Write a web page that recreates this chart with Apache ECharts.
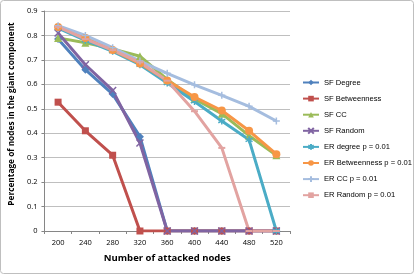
<!DOCTYPE html>
<html><head><meta charset="utf-8">
<script src="https://cdn.jsdelivr.net/npm/echarts@6/dist/echarts.min.js"></script>
<style>html,body{margin:0;padding:0;background:#fff}#c{width:415px;height:275px}</style>
</head><body><div id="c"></div>
<script>
const categories = ['200','240','280','320','360','400','440','480','520'];
const sfDegree      = [0.785, 0.66, 0.56, 0.386, 0, 0, 0, 0, 0];
const sfBetweenness = [0.527, 0.41, 0.31, 0, 0, 0, 0, 0, 0];
const sfCC          = [0.79, 0.77, 0.745, 0.715, 0.62, 0.54, 0.48, 0.39, 0.31];
const sfRandom      = [0.81, 0.68, 0.575, 0.36, 0, 0, 0, 0, 0];
const erDegree      = [0.83, 0.78, 0.735, 0.68, 0.605, 0.53, 0.45, 0.373, 0];
const erBetweenness = [0.835, 0.79, 0.74, 0.685, 0.616, 0.548, 0.493, 0.41, 0.314];
const erCC          = [0.84, 0.80, 0.75, 0.695, 0.645, 0.598, 0.555, 0.51, 0.45];
const erRandom      = [0.835, 0.785, 0.74, 0.69, 0.615, 0.49, 0.34, 0, 0];
const yTicks = [0, 0.1, 0.2, 0.3, 0.4, 0.5, 0.6, 0.7, 0.8, 0.9];

const FONT = 'Open Sans';
const LEGEND_FONT = '"Liberation Sans", sans-serif';
const X_PATH = 'path://M0,0L10,10M10,0L0,10';
const STAR_PATH = 'path://M5,0L5,10M0,2.5L10,7.5M10,2.5L0,7.5';
const PLUS_PATH = 'path://M5,0L5,10M0,5L10,5';

const defs = [
  ['SF Degree', sfDegree, '#4F81BD', 'diamond', 8, false],
  ['SF Betweenness', sfBetweenness, '#C0504D', 'rect', 7, false],
  ['SF CC', sfCC, '#9BBB59', 'triangle', 8, false],
  ['SF Random', sfRandom, '#8064A2', X_PATH, 7, true],
  ['ER degree p = 0.01', erDegree, '#4BACC6', STAR_PATH, 7, true],
  ['ER Betweenness p = 0.01', erBetweenness, '#F79646', 'circle', 8, false],
  ['ER CC p = 0.01', erCC, '#A5BDDF', PLUS_PATH, 7, true],
  ['ER Random p = 0.01', erRandom, '#E2A3A1', 'rect', [7,2], false]
];

const series = defs.map(d => ({
  name: d[0], type: 'line', data: d[1],
  symbol: d[3], symbolSize: d[4], showSymbol: true,
  lineStyle: { color: d[2], width: 3 },
  itemStyle: { color: d[2], borderColor: d[2], borderWidth: d[5] ? 1.5 : 0 },
  emphasis: { disabled: true },
  animation: false
}));

const chart = echarts.init(document.getElementById('c'), null, { renderer: 'canvas' });
chart.setOption({
  animation: false,
  textStyle: { fontFamily: FONT },
  graphic: [{ type: 'rect', shape: { x: 0.5, y: 0.5, width: 413, height: 273, r: 3 },
    style: { fill: 'none', stroke: '#bfbfbf', lineWidth: 1 }, silent: true }],
  grid: { left: 44, right: 125, top: 11, bottom: 44, containLabel: false },
  legend: {
    orient: 'vertical', left: 302, top: 78.5, padding: 0,
    itemWidth: 16, itemHeight: 7, itemGap: 8.1,
    textStyle: { fontFamily: LEGEND_FONT, fontSize: 7.6, color: '#000' },
    data: defs.map(d => d[0])
  },
  xAxis: {
    type: 'category', data: categories, boundaryGap: true,
    name: 'Number of attacked nodes', nameLocation: 'middle', nameGap: 22,
    nameTextStyle: { fontFamily: FONT, fontWeight: 'bold', fontSize: 9.5, color: '#000' },
    axisLine: { lineStyle: { color: '#868686' } },
    axisTick: { show: true, length: 3, lineStyle: { color: '#868686' } },
    axisLabel: { fontFamily: FONT, fontSize: 7.5, color: '#000', margin: 8 },
    splitLine: { show: false }
  },
  yAxis: {
    type: 'value', min: 0, max: 0.9, interval: 0.1,
    name: 'Percentage of nodes in the giant component', nameLocation: 'middle', nameGap: 28,
    nameTextStyle: { fontFamily: FONT, fontWeight: 'bold', fontSize: 8.3, color: '#000', padding: [0, 0, 0, 14] },
    axisLine: { show: true, lineStyle: { color: '#868686' } },
    axisTick: { show: true, length: 3, lineStyle: { color: '#868686' } },
    axisLabel: { fontFamily: FONT, fontSize: 7.5, color: '#000', margin: 7,
      formatter: v => { const t = yTicks.find(x => Math.abs(x - v) < 1e-6); return String(t !== undefined ? t : v); } },
    splitLine: { lineStyle: { color: '#bfbfbf' } }
  },
  series: series
});
</script></body></html>
